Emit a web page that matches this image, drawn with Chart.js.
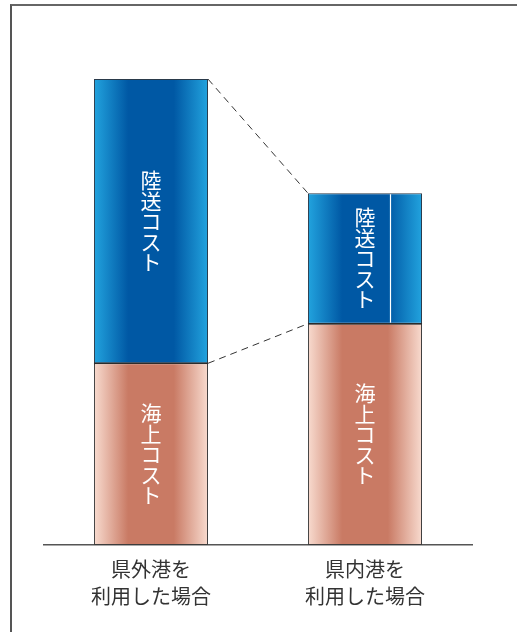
<!DOCTYPE html>
<html>
<head>
<meta charset="utf-8">
<script src="https://cdn.jsdelivr.net/npm/chart.js@4"></script>
<style>
  html, body { margin: 0; padding: 0; background: #fff; }
  #wrap { position: relative; width: 517px; height: 632px; }
  #frame {
    position: absolute; left: 10px; top: 4px; right: -4px; bottom: -4px;
    border-top: 2px solid #666; border-left: 2px solid #555;
    pointer-events: none;
  }
</style>
</head>
<body>
<div id="wrap">
  <canvas id="cost-chart" width="517" height="632"></canvas>
  <div id="frame"></div>
</div>
<script>
// categories (two-line labels) and stacked series
const categories = [['県外港を', '利用した場合'], ['県内港を', '利用した場合']];
const seriesNames = ['海上コスト', '陸送コスト'];
const seaCost = [39, 47.5];
const landCost = [61, 28];

const FONT = '"Noto Sans CJK JP", "Noto Sans", sans-serif';
const BAR_PCT = 0.533;

/**
 * Horizontal gradient across one bar: light edges, dark middle
 */
function barGradient(context, light, dark) {
    const chart = context.chart;
    const xScale = chart.scales.x;
    if (!chart.chartArea || !xScale) return dark;
    const cx = xScale.getPixelForValue(context.dataIndex);
    const half = xScale.width / categories.length * BAR_PCT / 2;
    const g = chart.ctx.createLinearGradient(cx - half, 0, cx + half, 0);
    g.addColorStop(0, light);
    g.addColorStop(0.3, dark);
    g.addColorStop(0.7, dark);
    g.addColorStop(1, light);
    return g;
}

// vertical labels inside segments, dashed connectors and the thin white rule
const decorations = {
    id: 'decorations',
    afterDatasetsDraw(chart) {
        const ctx = chart.ctx;
        const landMeta = chart.getDatasetMeta(1);
        const a = landMeta.data[0];
        const b = landMeta.data[1];

        // dashed connectors between bar 1 and bar 2
        ctx.save();
        ctx.strokeStyle = '#333';
        ctx.lineWidth = 1;
        ctx.setLineDash([7, 5]);
        ctx.beginPath();
        ctx.moveTo(a.x + a.width / 2, a.y);
        ctx.lineTo(b.x - b.width / 2, b.y);
        ctx.moveTo(a.x + a.width / 2, a.base);
        ctx.lineTo(b.x - b.width / 2, b.base);
        ctx.stroke();
        ctx.restore();

        // dark seam between the two segments
        ctx.save();
        ctx.strokeStyle = '#2b2b2b';
        ctx.lineWidth = 1.2;
        ctx.beginPath();
        landMeta.data.forEach(bar => {
            ctx.moveTo(bar.x - bar.width / 2, bar.base);
            ctx.lineTo(bar.x + bar.width / 2, bar.base);
        });
        ctx.stroke();
        ctx.restore();

        // white vertical rule in the second land segment
        ctx.save();
        ctx.strokeStyle = '#fff';
        ctx.lineWidth = 1.2;
        const rx = Math.round(b.x - b.width / 2 + b.width * 0.72) + 0.5;
        ctx.beginPath();
        ctx.moveTo(rx, b.y + 1);
        ctx.lineTo(rx, b.base - 1);
        ctx.stroke();
        ctx.restore();

        // stacked characters
        ctx.save();
        ctx.fillStyle = '#fff';
        ctx.font = '21px ' + FONT;
        ctx.textAlign = 'center';
        ctx.textBaseline = 'middle';
        chart.data.datasets.forEach((ds, i) => {
            chart.getDatasetMeta(i).data.forEach(bar => {
                const chars = Array.from(ds.label);
                const step = 20.5;
                const mid = (bar.y + bar.base) / 2;
                let y = mid - (chars.length * step) / 2 + step / 2;
                chars.forEach(ch => {
                    ctx.fillText(ch, bar.x, y);
                    y += step;
                });
            });
        });
        ctx.restore();
    }
};

const chart = new Chart(document.getElementById('cost-chart'), {
    type: 'bar',
    data: {
        labels: categories,
        datasets: [{
            label: seriesNames[0],
            data: seaCost,
            backgroundColor: c => barGradient(c, '#f8dbcf', '#c97a64'),
            borderColor: '#3c3c3c',
            borderWidth: 1,
            borderSkipped: false,
            barPercentage: BAR_PCT,
            categoryPercentage: 1
        }, {
            label: seriesNames[1],
            data: landCost,
            backgroundColor: c => barGradient(c, '#22a3de', '#0058a4'),
            borderColor: '#2a3a4a',
            borderWidth: 1,
            borderSkipped: false,
            barPercentage: BAR_PCT,
            categoryPercentage: 1
        }]
    },
    options: {
        responsive: false,
        animation: false,
        layout: {
            padding: { left: 44, right: 45, top: 32.5, bottom: 19 }
        },
        plugins: {
            legend: { display: false },
            tooltip: { enabled: false }
        },
        scales: {
            x: {
                stacked: true,
                grid: { display: false },
                border: { display: true, color: '#555', width: 1.5 },
                ticks: {
                    color: '#333',
                    padding: 3,
                    maxRotation: 0,
                    autoSkip: false,
                    font: { family: FONT, size: 20, lineHeight: 1.35 }
                }
            },
            y: {
                stacked: true,
                display: false,
                min: 0,
                max: 110
            }
        }
    },
    plugins: [decorations]
});
</script>
</body>
</html>
